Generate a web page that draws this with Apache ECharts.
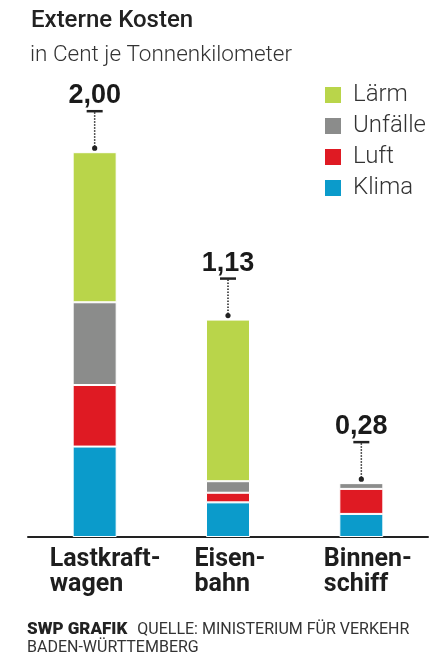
<!DOCTYPE html>
<html><head><meta charset="utf-8">
<script src="https://cdn.jsdelivr.net/npm/echarts@6/dist/echarts.min.js"></script>
<style>html,body{margin:0;padding:0;background:#fff}#c{width:434px;height:657px}</style>
</head><body><div id="c"></div>
<script>
const categories = ["Lastkraft-\nwagen", "Eisen-\nbahn", "Binnen-\nschiff"];
const klima = [0.47, 0.18, 0.12];
const luft = [0.32, 0.05, 0.13];
const unfaelle = [0.43, 0.06, 0.03];
const laerm = [0.78, 0.84, 0.00];
const totals = [2.00, 1.13, 0.28];
const totalLabels = ["2,00", "1,13", "0,28"];

const colors = {Klima:'#0b9bcb', Luft:'#df1a23', 'Unfälle':'#8b8c8b', 'Lärm':'#b9d54a'};
const chart = echarts.init(document.getElementById('c'), null, {renderer:'canvas'});
function barSeries(name, data){
  return {name, type:'bar', stack:'s', data, barWidth:44,
    itemStyle:{color:colors[name], borderColor:'#fff', borderWidth:1},
    emphasis:{disabled:true}, silent:true};
}
const labelWidths = [90, 67, 75];
const rich = {};
labelWidths.forEach((w,i)=>{ rich['a'+i] = {fontFamily:'Roboto', fontWeight:700, fontSize:25, color:'#1e1e1e', lineHeight:25, width:w, align:'left'}; });
chart.setOption({
  animation:false,
  title:[
    {text:'Externe Kosten', left:31, top:9, padding:0, textStyle:{fontFamily:'Roboto', fontWeight:500, fontSize:24, color:'#222'}},
    {text:'in Cent je Tonnenkilometer', left:30, top:44, padding:0, textStyle:{fontFamily:'Roboto', fontWeight:300, fontSize:22.5, color:'#333'}},
    {text:'{b|SWP GRAFIK}  {r|QUELLE: MINISTERIUM FÜR VERKEHR}\n{r|BADEN-WÜRTTEMBERG}', left:27, top:621, padding:0,
     textStyle:{rich:{b:{fontFamily:'Roboto', fontWeight:900, fontSize:17, color:'#222', lineHeight:18},
                      r:{fontFamily:'Roboto', fontWeight:400, fontSize:16, color:'#333', lineHeight:18}}}}
  ],
  legend:{orient:'vertical', left:323, top:83, padding:0, itemWidth:18, itemHeight:18, itemGap:7, icon:'rect',
    data:['Lärm','Unfälle','Luft','Klima'], selectedMode:false,
    textStyle:{fontFamily:'Roboto', fontWeight:300, fontSize:24, lineHeight:18, color:'#333', padding:[0,0,0,6]}},
  grid:{left:28, right:6, top:56, bottom:120},
  xAxis:{type:'category', data:categories,
    axisLine:{lineStyle:{color:'#222', width:2}}, axisTick:{show:false},
    axisLabel:{margin:10, formatter:(v,i)=>v.split('\n').map(s=>'{a'+i+'|'+s+'}').join('\n'), rich}},
  yAxis:{type:'value', min:0, max:2.5, show:false, splitLine:{show:false}},
  series:[
    barSeries('Klima', klima), barSeries('Luft', luft), barSeries('Unfälle', unfaelle), barSeries('Lärm', laerm),
    {type:'custom', silent:true, data:totals.map((t,i)=>[i,t]), z:10,
     renderItem:(params, api)=>{
       const p = api.coord([api.value(0), api.value(1)]);
       const x = p[0], y = p[1];
       return {type:'group', children:[
         {type:'line', shape:{x1:x, y1:y-40, x2:x, y2:y-5}, style:{stroke:'#222', lineWidth:1.5, lineDash:[1.5,1.5]}},
         {type:'circle', shape:{cx:x, cy:y-4, r:2.6}, style:{fill:'#222'}},
         {type:'line', shape:{x1:x-8, y1:y-41, x2:x+8, y2:y-41}, style:{stroke:'#222', lineWidth:2.5}},
         {type:'text', style:{text:totalLabels[params.dataIndex], x:x, y:y-43, align:'center', verticalAlign:'bottom',
           font:'bold 27px "Liberation Sans"', fill:'#1a1a1a'}}
       ]};
     }}
  ]
});
</script></body></html>
